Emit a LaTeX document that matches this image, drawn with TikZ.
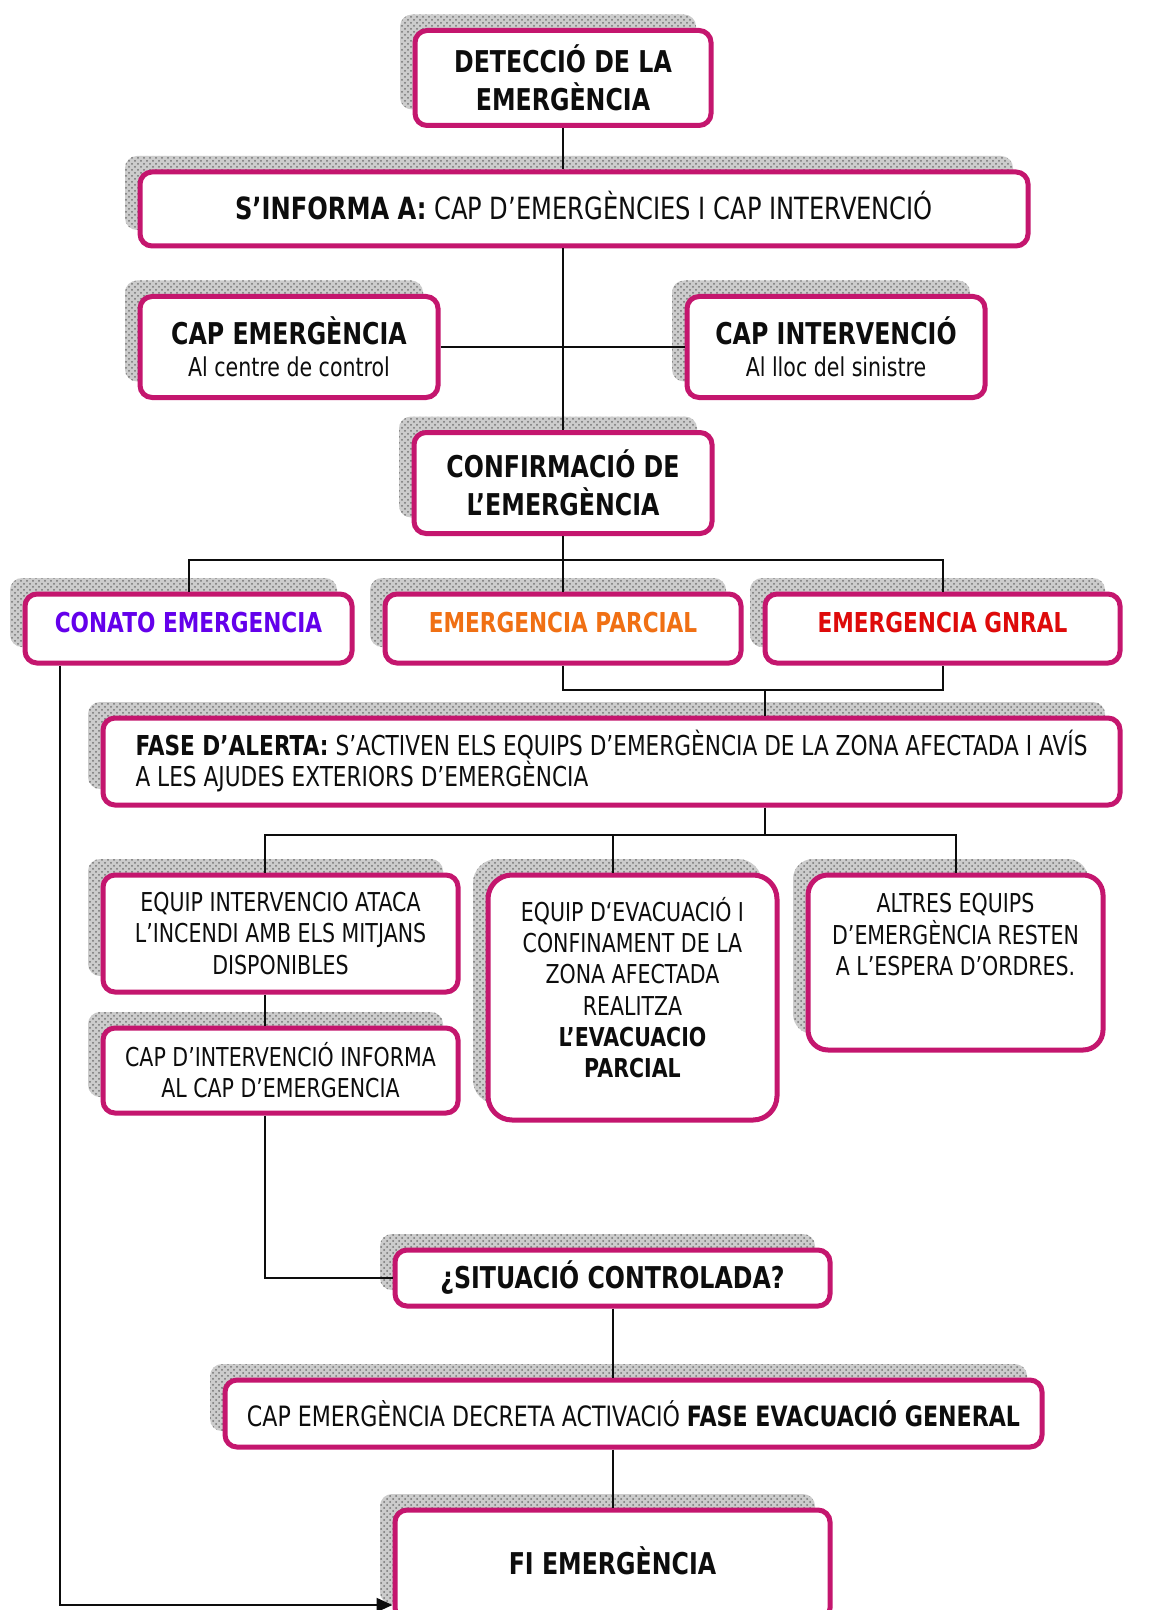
\documentclass[tikz,border=0pt]{standalone}
\usepackage{fontspec}
\setmainfont{DejaVu Sans}[FakeStretch=0.79]
\usetikzlibrary{calc, arrows.meta, positioning, shadows, patterns}
\definecolor{mainBlack}{gray}{0.05}
\definecolor{mainMagenta}{RGB}{196,22,110}
\definecolor{shadowGray}{gray}{0.45}
\definecolor{conatoViolet}{RGB}{100,0,235}
\definecolor{parcialOrange}{RGB}{240,112,20}
\definecolor{gnralRed}{RGB}{222,10,10}

\begin{document}
\begin{tikzpicture}[x=0.5pt, y=-0.5pt,
    caixa/.style={draw=mainMagenta, line width=2.5pt, rounded corners=6pt, fill=white,
        align=center, inner sep=0pt, text=mainBlack,
        general shadow={shadow xshift=-7.5pt, shadow yshift=8pt, fill=gray!40},
        general shadow={shadow xshift=-7.5pt, shadow yshift=8pt,
            pattern=crosshatch dots, pattern color=shadowGray}},
    titolCaixa/.style={caixa, font=\fontsize{15}{19}\selectfont\bfseries},
    textCaixa/.style={caixa, font=\fontsize{13.7}{15.5}\selectfont},
    subCaixa/.style={caixa, font=\fontsize{13}{16}\selectfont},
    nivellCaixa/.style={caixa, font=\fontsize{13.7}{16}\selectfont\bfseries, text depth=6pt},
    petitCaixa/.style={caixa, font=\fontsize{13}{15.6}\selectfont},
    connector/.style={draw=mainBlack, line width=1pt}]
    \path[use as bounding box, clip] (0,0) rectangle (1151,1610);
    \fill[white] (0,0) rectangle (1151,1610);

    % caixes
    \node[titolCaixa, minimum width=148pt, minimum height=47.5pt] (deteccio) at (563,78)
        {DETECCIÓ DE LA\\EMERGÈNCIA};
    \node[textCaixa, font=\fontsize{15.3}{17}\selectfont, minimum width=444pt, minimum height=37pt, text depth=4pt] (informa) at (584,209)
        {\textbf{S’INFORMA A:} CAP D’EMERGÈNCIES I CAP INTERVENCIÓ};
    \node[subCaixa, minimum width=149pt, minimum height=50.5pt] (capEmerg) at (289,347)
        {{\fontsize{15}{16}\selectfont\bfseries CAP EMERGÈNCIA}\\Al centre de control};
    \node[subCaixa, minimum width=149pt, minimum height=50.5pt] (capInterv) at (836,347)
        {{\fontsize{15}{16}\selectfont\bfseries CAP INTERVENCIÓ}\\Al lloc del sinistre};
    \node[titolCaixa, minimum width=149pt, minimum height=50.5pt] (confirmacio) at (563,483)
        {CONFIRMACIÓ DE\\L’EMERGÈNCIA};

    \node[nivellCaixa, text=conatoViolet, minimum width=163.5pt, minimum height=34.5pt] (conato) at (188.5,628.5)
        {CONATO EMERGENCIA};
    \node[nivellCaixa, text=parcialOrange, minimum width=178pt, minimum height=34.5pt] (parcial) at (563,628.5)
        {EMERGENCIA PARCIAL};
    \node[nivellCaixa, text=gnralRed, minimum width=177.5pt, minimum height=34.5pt] (gnral) at (942.5,628.5)
        {EMERGENCIA GNRAL};

    \node[textCaixa, align=left, minimum width=508.5pt, minimum height=43.5pt] (fase) at (611.5,761.5)
        {\textbf{FASE D’ALERTA:} S’ACTIVEN ELS EQUIPS D’EMERGÈNCIA DE LA ZONA AFECTADA I AVÍS\\A LES AJUDES EXTERIORS D’EMERGÈNCIA};

    \node[petitCaixa, minimum width=177.5pt, minimum height=58.5pt] (equipInterv) at (280.5,933.5)
        {EQUIP INTERVENCIO ATACA\\L’INCENDI AMB ELS MITJANS\\DISPONIBLES};
    \node[petitCaixa, rounded corners=12pt, minimum width=144.5pt, minimum height=122.5pt, text depth=10pt] (equipEvac) at (632.5,997.5)
        {EQUIP D‘EVACUACIÓ I\\CONFINAMENT DE LA\\ZONA AFECTADA\\REALITZA\\\textbf{L’EVACUACIO}\\\textbf{PARCIAL}};
    \node[petitCaixa, rounded corners=10pt, minimum width=147.5pt, minimum height=87.5pt, text depth=28pt] (altres) at (955.5,962.5)
        {ALTRES EQUIPS\\D’EMERGÈNCIA RESTEN\\A L’ESPERA D’ORDRES.};
    \node[petitCaixa, minimum width=177.5pt, minimum height=42.5pt] (capInforma) at (280.5,1070.5)
        {CAP D’INTERVENCIÓ INFORMA\\AL CAP D’EMERGENCIA};

    \node[titolCaixa, minimum width=217.5pt, minimum height=28pt] (situacio) at (612.5,1278)
        {¿SITUACIÓ CONTROLADA?};
    \node[textCaixa, font=\fontsize{14}{16}\selectfont, minimum width=408.5pt, minimum height=33.5pt] (decreta) at (633.5,1413.5)
        {CAP EMERGÈNCIA DECRETA ACTIVACIÓ \textbf{FASE EVACUACIÓ GENERAL}};
    \node[titolCaixa, minimum width=217.5pt, minimum height=55pt, text depth=4pt] (fi) at (612.5,1565)
        {FI EMERGÈNCIA};

    % connexions
    \coordinate (busNivells) at (563,560);
    \coordinate (busParcial) at (765,690);
    \coordinate (busEquips) at (765,835);
    \coordinate (colEsq) at (265,0);
    \coordinate (colMig) at (613,0);
    \coordinate (retorn) at (60,1605);

    \draw[connector] (deteccio.south) -- (deteccio.south |- informa.north);
    \draw[connector] (confirmacio.north |- informa.south) -- (confirmacio.north);
    \draw[connector] (capEmerg.east) -- (capInterv.west);
    \draw[connector] (confirmacio.south) -- (parcial.north);
    \draw[connector] (conato.north) |- (busNivells) -| (gnral.north);
    \draw[connector] (parcial.south) |- (busParcial) -| (gnral.south);
    \draw[connector] (busParcial) -- (busParcial |- fase.north);
    \draw[connector] (busEquips |- fase.south) -- (busEquips);
    \draw[connector] (colEsq |- equipInterv.north) |- (busEquips) -| (altres.north);
    \draw[connector] (colMig |- busEquips) -- (colMig |- equipEvac.north);
    \draw[connector] (colEsq |- equipInterv.south) -- (colEsq |- capInforma.north);
    \draw[connector] (colEsq |- capInforma.south) |- (situacio.west);
    \draw[connector] (situacio.south) -- (situacio.south |- decreta.north);
    \draw[connector] (fi.north |- decreta.south) -- (fi.north);
    \draw[connector, -{Triangle[length=8pt, width=7pt]}] (conato.south -| retorn) |- (fi.west |- retorn);
\end{tikzpicture}
\end{document}
